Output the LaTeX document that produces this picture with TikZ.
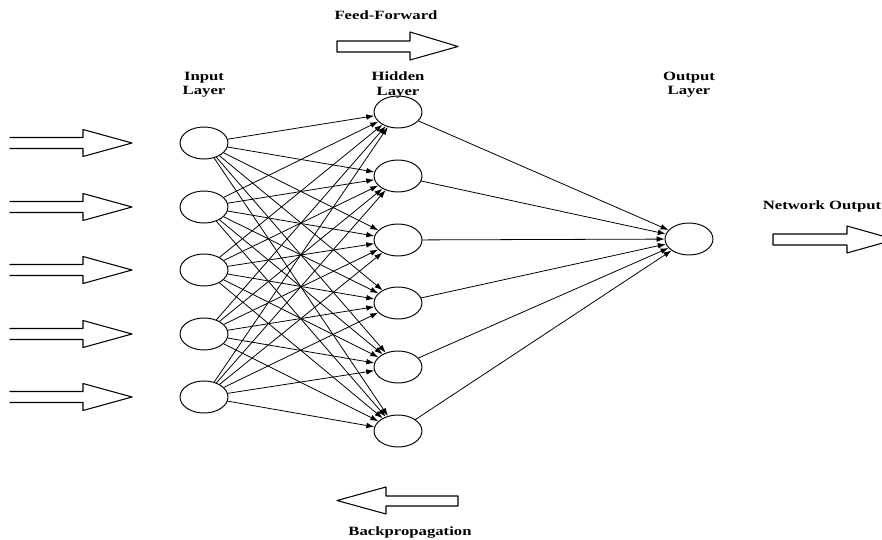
\documentclass[tikz,border=0pt]{standalone}
\usepackage{fontspec}
\setmainfont{Liberation Serif}
\usetikzlibrary{shapes.geometric,arrows.meta,positioning}

\begin{document}
\begin{tikzpicture}[x=0.02cm, y=-0.02cm, line cap=round, line join=round,
  neuron/.style={ellipse, draw, line width=0.55pt, minimum width=0.96cm, minimum height=0.64cm, inner sep=0pt},
  link/.style={-{Latex[length=4.5pt,width=3.2pt]}, line width=0.45pt},
  blockarr/.style={draw, line width=0.6pt},
  lbl/.style={font=\fontsize{7.2}{8}\selectfont\bfseries, align=center, xscale=1.32, inner sep=0pt}]

\useasboundingbox (0,0) rectangle (882,540);

% --- input layer with incoming arrows ---
\foreach \y [count=\i] in {143,207,270,334,397} {
  \node[neuron] (in\i) at (204,\y) {};
  \draw[blockarr] (10,{\y-5.5}) -- (83,{\y-5.5}) -- (83,{\y-13.5}) -- (132,\y)
    -- (83,{\y+13.5}) -- (83,{\y+5.5}) -- (10,{\y+5.5});
}

% --- hidden layer ---
\foreach \y [count=\j] in {112,176,240,303,367,431}
  \node[neuron] (hid\j) at (398,\y) {};

% --- output neuron ---
\node[neuron] (out) at (689,239) {};

% connections
\foreach \i in {1,...,5}
  \foreach \j in {1,...,6}
    \draw[link] (in\i) -- (hid\j);
\foreach \j in {1,...,6}
  \draw[link] (hid\j) -- (out);

% layer labels
\node[lbl] (lblIn)  at (204,85) {Input\\Layer};
\node[lbl] (lblHid) at (398,85) {Hidden\\Layer};
\node[lbl] (lblOut) at (689,85) {Output\\Layer};

% feed-forward arrow
\node[lbl] (lblFF) at (386,15) {Feed-Forward};
\draw[blockarr] (337,41) -- (410,41) -- (410,32) -- (458,46.5) -- (410,60)
  -- (410,52) -- (337,52) -- cycle;

% network output arrow
\node[lbl] (lblNet) at (822,206) {Network Output};
\draw[blockarr] (773,234) -- (847,234) -- (847,226) -- (895,239.5) -- (847,253)
  -- (847,245) -- (773,245) -- cycle;

% backpropagation arrow
\draw[blockarr] (458,496) -- (386,496) -- (386,487) -- (337,500.5) -- (386,514)
  -- (386,506) -- (458,506) -- cycle;
\node[lbl] (lblBP) at (410,533) {Backpropagation};

\end{tikzpicture}
\end{document}
